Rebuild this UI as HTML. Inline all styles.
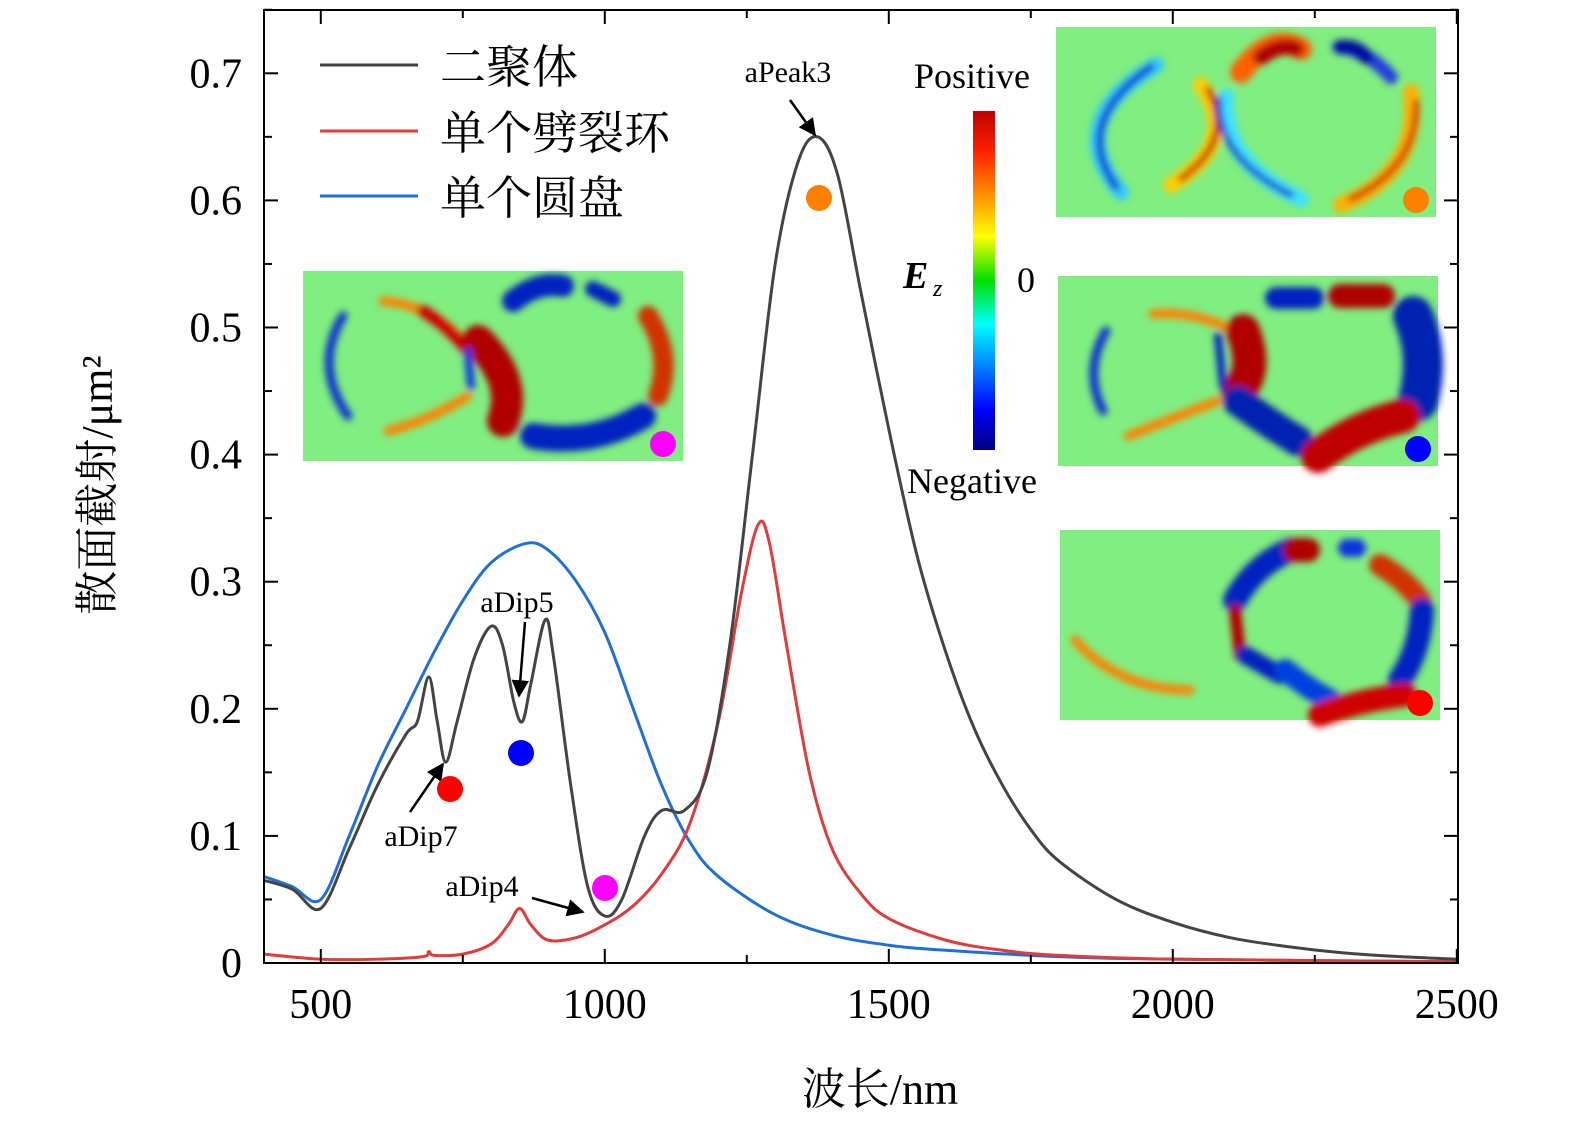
<!DOCTYPE html>
<html><head><meta charset="utf-8">
<style>
body{margin:0;background:#fff;}
svg{display:block;font-family:"Liberation Serif","Noto Serif CJK SC",serif;}
</style></head>
<body>
<svg id="chart" width="1575" height="1132" viewBox="0 0 1575 1132" xmlns="http://www.w3.org/2000/svg">
<defs>
<filter id="blur" x="-20%" y="-20%" width="140%" height="140%"><feGaussianBlur stdDeviation="3.5"/></filter>
<linearGradient id="jet" x1="0" y1="1" x2="0" y2="0">
<stop offset="0" stop-color="#00007f"/><stop offset="0.12" stop-color="#0000ff"/><stop offset="0.37" stop-color="#00ffff"/><stop offset="0.5" stop-color="#00e000"/><stop offset="0.63" stop-color="#ffff00"/><stop offset="0.88" stop-color="#ff2000"/><stop offset="1" stop-color="#c00000"/>
</linearGradient>
<clipPath id="plotclip"><rect x="264" y="10" width="1194" height="953"/></clipPath>
</defs>
<g id="insets"></g>
<g id="curves" clip-path="url(#plotclip)"></g>
<g id="axes"></g>
<g id="annot"></g>
</svg>
<script>
const xData=[400,450,500,550,600,650,670,690,705,720,740,770,800,820,840,855,870,895,910,940,970,1000,1030,1070,1100,1140,1180,1220,1260,1300,1340,1375,1410,1450,1500,1550,1600,1650,1700,1750,1800,1900,2000,2100,2200,2300,2400,2500];
const dimerVals=[0.065,0.058,0.043,0.09,0.14,0.18,0.19,0.225,0.19,0.158,0.19,0.24,0.265,0.25,0.205,0.19,0.22,0.27,0.24,0.14,0.06,0.037,0.05,0.1,0.12,0.12,0.15,0.25,0.4,0.55,0.63,0.65,0.62,0.53,0.42,0.32,0.245,0.185,0.14,0.105,0.08,0.05,0.032,0.02,0.013,0.008,0.005,0.003];
const ringX=[400,500,600,680,690,700,750,800,830,850,870,900,950,1000,1050,1100,1150,1200,1240,1270,1290,1320,1360,1400,1450,1500,1600,1700,1800,2000,2500];
const ringVals=[0.007,0.003,0.003,0.005,0.009,0.006,0.007,0.015,0.03,0.043,0.03,0.018,0.02,0.03,0.045,0.07,0.11,0.19,0.29,0.345,0.33,0.25,0.15,0.09,0.055,0.035,0.018,0.01,0.006,0.003,0.001];
const diskX=[400,450,500,550,600,650,700,750,800,860,900,950,1000,1050,1100,1150,1200,1300,1400,1500,1600,1800,2000,2500];
const diskVals=[0.068,0.06,0.05,0.1,0.155,0.2,0.245,0.285,0.315,0.33,0.325,0.3,0.26,0.2,0.14,0.095,0.068,0.038,0.022,0.014,0.01,0.005,0.003,0.001];
const xTicks=[500,1000,1500,2000,2500];
const yTicks=[0,0.1,0.2,0.3,0.4,0.5,0.6,0.7];
const yTickLabels=["0","0.1","0.2","0.3","0.4","0.5","0.6","0.7"];

const NS="http://www.w3.org/2000/svg";
const X=v=>264+(v-400)*0.568;
const Y=v=>963-v*1271;
function mk(tag,attrs,parent,text){const e=document.createElementNS(NS,tag);for(const k in attrs)e.setAttribute(k,attrs[k]);if(text!==undefined)e.textContent=text;parent.appendChild(e);return e;}
function pathD(xs,ys){
  const p=xs.map((x,i)=>[X(x),Y(ys[i])]);
  let d="M"+p[0][0]+","+p[0][1];
  for(let i=0;i<p.length-1;i++){
    const p0=p[i-1]||p[i],p1=p[i],p2=p[i+1],p3=p[i+2]||p2;
    const c1=[p1[0]+(p2[0]-p0[0])/6,p1[1]+(p2[1]-p0[1])/6];
    const c2=[p2[0]-(p3[0]-p1[0])/6,p2[1]-(p3[1]-p1[1])/6];
    d+=` C${c1[0]},${c1[1]} ${c2[0]},${c2[1]} ${p2[0]},${p2[1]}`;
  }
  return d;
}
const curves=document.getElementById('curves');
let c;
c=mk('path',{d:pathD(diskX,diskVals),fill:'none',stroke:'#1f6fd6','stroke-width':3},curves);


c=mk('path',{d:pathD(ringX,ringVals),fill:'none',stroke:'#e03c3c','stroke-width':3},curves);


c=mk('path',{d:pathD(xData,dimerVals),fill:'none',stroke:'#444','stroke-width':3},curves);



const axes=document.getElementById('axes');
mk('rect',{x:264,y:10,width:1194,height:953,fill:'none',stroke:'#000','stroke-width':2},axes);
xTicks.forEach(t=>{
  const l=mk('line',{x1:X(t),x2:X(t),y1:963,y2:949,stroke:'#000','stroke-width':2},axes);
  
  
  mk('line',{x1:X(t),x2:X(t),y1:10,y2:24,stroke:'#000','stroke-width':2},axes);
  const tx=mk('text',{x:X(t),y:1018,'font-size':42,'text-anchor':'middle'},axes,String(t));
  
  
});
for(let t=750;t<2500;t+=500){mk('line',{x1:X(t),x2:X(t),y1:963,y2:955,stroke:'#000','stroke-width':2},axes);mk('line',{x1:X(t),x2:X(t),y1:10,y2:18,stroke:'#000','stroke-width':2},axes);}
yTicks.forEach((t,i)=>{
  const l=mk('line',{x1:264,x2:278,y1:Y(t),y2:Y(t),stroke:'#000','stroke-width':2},axes);
  
  
  mk('line',{x1:1458,x2:1444,y1:Y(t),y2:Y(t),stroke:'#000','stroke-width':2},axes);
  mk('line',{x1:264,x2:272,y1:Y(t+0.05),y2:Y(t+0.05),stroke:'#000','stroke-width':2},axes);
  mk('line',{x1:1458,x2:1450,y1:Y(t+0.05),y2:Y(t+0.05),stroke:'#000','stroke-width':2},axes);
  const tx=mk('text',{x:242,y:Y(t)+14,'font-size':42,'text-anchor':'end'},axes,yTickLabels[i]);
  
  
});
let t=mk('text',{x:880,y:1104,'font-size':44,'text-anchor':'middle'},axes,'波长/nm');


t=mk('text',{x:0,y:0,'font-size':44,'text-anchor':'middle',transform:'translate(112,485) rotate(-90)'},axes,'散面截射/μm²');



const legend=[['二聚体','#444',65],['单个劈裂环','#e03c3c',131],['单个圆盘','#1f6fd6',196]];
legend.forEach(e=>{
  const g=mk('g',{},axes);
  
  
  mk('line',{x1:320,x2:418,y1:e[2],y2:e[2],stroke:e[1],'stroke-width':3},g);
  mk('text',{x:440,y:e[2]+18,'font-size':46},g,e[0]);
});

// insets: stroked crescent arcs [color, path, width]
const insets=document.getElementById('insets');
const G='#80ee80';
const insetDefs=[
 {name:'inset-peak3',x:1056,y:27,dot:'#ff8000',arcs:[
  ['#30c8ff','M100,38 Q5,95 65,165',16],['#1030d0','M95,40 Q15,95 60,160',7],
  ['#ffcc00','M145,58 Q185,115 115,158',16],['#c00000','M152,62 Q180,112 125,152',6],
  ['#40e0ff','M170,70 Q165,135 245,172',16],['#1030d0','M163,72 Q160,130 235,168',6],
  ['#ff6000','M185,45 Q215,5 245,22',22],['#b00000','M205,30 Q225,15 240,22',16],
  ['#2040e0','M283,20 Q310,22 335,50',14],['#0010a0','M285,20 Q300,18 310,30',14],
  ['#ffb000','M355,65 Q365,145 285,178',16],['#d02000','M360,75 Q362,140 295,172',6]]},
 {name:'inset-dip5',x:1058,y:276,dot:'#0000ff',arcs:[
  ['#1030d0','M48,55 Q25,95 45,135',9],['#ff8000','M95,38 Q140,35 175,55',9],['#ff8000','M70,160 Q120,140 160,125',9],
  ['#b00000','M185,55 Q200,95 180,115',34],['#0020c0','M160,60 L165,110',8],
  ['#0020c0','M218,22 L255,22',22],['#b00000','M282,20 L325,20',24],['#0020b0','M355,40 Q372,80 360,125',40],
  ['#0020b0','M180,125 Q215,150 240,165',30],['#c00000','M260,180 Q300,150 345,140',34]]},
 {name:'inset-dip7',x:1060,y:530,dot:'#ff0000',arcs:[
  ['#ff8000','M15,110 Q60,160 130,160',9],['#0020c0','M175,70 Q195,35 230,20',24],['#b00000','M175,80 L180,125',12],['#0020c0','M185,125 L220,145',18],
  ['#b00000','M235,20 L248,20',24],['#1030e0','M287,18 L297,18',18],['#d03000','M320,35 Q345,50 360,70',22],['#0020c0','M362,80 Q360,120 340,150',24],
  ['#0040e0','M225,140 Q250,160 270,170',22],['#d00000','M260,185 Q300,170 345,165',24]]},
 {name:'inset-dip4',x:303,y:271,dot:'#ff00ff',arcs:[
  ['#1030d0','M40,45 Q10,95 45,145',9],['#ff8000','M80,30 Q130,35 160,70',9],['#d00000','M120,40 Q145,55 165,80',12],['#ff8000','M85,160 Q125,150 165,125',9],
  ['#b00000','M175,70 Q215,110 200,150',32],['#1030e0','M165,80 L168,115',8],
  ['#0020c0','M210,30 Q235,10 260,15',22],['#0020c0','M290,18 L310,28',16],['#d03000','M345,45 Q370,85 355,125',20],['#0020c0','M230,165 Q290,175 340,145',26]]}
];
insetDefs.forEach(d=>{
  const g=mk('g',{transform:`translate(${d.x},${d.y})`},insets);
  
  
  mk('rect',{x:0,y:0,width:380,height:190,fill:G},g);
  const b=mk('g',{filter:'url(#blur)'},g);
  d.arcs.forEach(q=>mk('path',{d:q[1],fill:'none',stroke:q[0],'stroke-width':q[2],'stroke-linecap':'round'},b));
  mk('circle',{cx:360,cy:173,r:13,fill:d.dot},g);
});
const cb=mk('g',{},insets);


mk('rect',{x:973,y:111,width:22,height:339,fill:'url(#jet)'},cb);
mk('text',{x:972,y:88,'font-size':36,'text-anchor':'middle'},cb,'Positive');
mk('text',{x:972,y:493,'font-size':36,'text-anchor':'middle'},cb,'Negative');
mk('text',{x:1026,y:292,'font-size':36,'text-anchor':'middle'},cb,'0');
mk('text',{x:903,y:288,'font-size':38,'font-style':'italic','font-weight':'bold'},cb,'E');
mk('text',{x:933,y:296,'font-size':24,'font-style':'italic'},cb,'z');

const an=document.getElementById('annot');
mk('defs',{},an).innerHTML='<marker id="ah" viewBox="0 0 10 10" refX="9" refY="5" markerWidth="7" markerHeight="7" orient="auto"><path d="M0,0 L10,5 L0,10 z" fill="#000"/></marker>';
const anns=[
 ['annotation-apeak3','aPeak3',788,82,790,100,815,135],
 ['annotation-adip5','aDip5',517,612,525,622,519,696],
 ['annotation-adip7','aDip7',421,846,410,812,443,764],
 ['annotation-adip4','aDip4',482,896,532,898,583,912]
];
anns.forEach(a=>{
  const g=mk('g',{},an);
  
  
  mk('text',{x:a[2],y:a[3],'font-size':30,'text-anchor':'middle'},g,a[1]);
  mk('line',{x1:a[4],y1:a[5],x2:a[6],y2:a[7],stroke:'#000','stroke-width':2.5,'marker-end':'url(#ah)'},g);
});
[['marker-peak3',819,198,'#ff8000'],['marker-dip5',521,753,'#0000ff'],['marker-dip7',450,789,'#ff0000'],['marker-dip4',605,888,'#ff00ff']].forEach(m=>{
  const e=mk('circle',{cx:m[1],cy:m[2],r:13,fill:m[3]},an);
  
  
});
</script>
</body></html>
